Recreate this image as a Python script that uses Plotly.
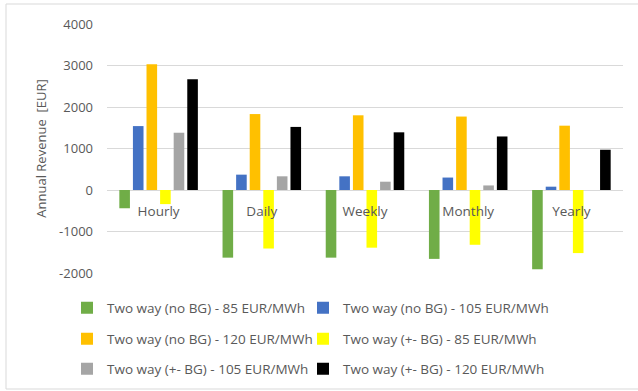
import plotly.graph_objects as go

categories = ["Hourly", "Daily", "Weekly", "Monthly", "Yearly"]

series_names = [
    "Two way (no BG) - 85 EUR/MWh",
    "Two way (no BG) - 105 EUR/MWh",
    "Two way (no BG) - 120 EUR/MWh",
    "Two way (+- BG) - 85 EUR/MWh",
    "Two way (+- BG) - 105 EUR/MWh",
    "Two way (+- BG) - 120 EUR/MWh",
]

nobg_85 = [-440, -1630, -1630, -1660, -1910]
nobg_105 = [1540, 370, 330, 300, 80]
nobg_120 = [3030, 1830, 1800, 1770, 1550]
bg_85 = [-340, -1410, -1390, -1320, -1520]
bg_105 = [1380, 330, 200, 110, 0]
bg_120 = [2670, 1520, 1390, 1290, 970]

series_values = [nobg_85, nobg_105, nobg_120, bg_85, bg_105, bg_120]
colors = ["#70AD47", "#4472C4", "#FFC000", "#FFFF00", "#A5A5A5", "#000000"]

y_ticks = [-2000, -1000, 0, 1000, 2000, 3000, 4000]
y_tick_text = ["-2000", "-1000", "0", "1000", "2000", "3000", "4000"]

FONT = "Open Sans"
TXT = "#595959"

# plot area in pixels
W, H = 638, 391
L, R, T, B = 107, 15, 24, 118
PW, PH = W - L - R, H - T - B


def px_x(px):
    return (px - L) / PW


def px_y(py):
    return (H - B - py) / PH


# legend laid out as a 2-column grid: one single-entry legend per cell
legend_cols = [67, 303]
legend_rows = [308, 339, 369]
legend_ids = ["legend", "legend2", "legend3", "legend4", "legend5", "legend6"]

fig = go.Figure()
for name, vals, col, lg in zip(series_names, series_values, colors, legend_ids):
    fig.add_trace(go.Bar(x=categories, y=vals, name=name, marker_color=col,
                         marker_line_width=0, legend=lg))

legend_style = dict(xanchor="left", yanchor="middle",
                    font=dict(family=FONT, size=13.5, color=TXT),
                    bgcolor="rgba(0,0,0,0)", itemclick=False)

legend_layout = {}
for i, lg in enumerate(legend_ids):
    legend_layout[lg] = dict(x=px_x(legend_cols[i % 2]),
                             y=px_y(legend_rows[i // 2]), **legend_style)

fig.update_layout(
    width=W, height=H,
    margin=dict(l=L, r=R, t=T, b=B, autoexpand=False),
    paper_bgcolor="white", plot_bgcolor="white",
    barmode="group", bargap=0.21, bargroupgap=0.22,
    font=dict(family=FONT, size=13, color=TXT),
    showlegend=True,
    xaxis=dict(anchor="free", position=2000 / 6000, showline=False,
               showgrid=False, ticks="", ticklabelstandoff=11,
               tickfont=dict(family=FONT, size=13.5, color=TXT)),
    yaxis=dict(range=[-2000, 4000], tickvals=y_ticks, ticktext=y_tick_text,
               showgrid=True, gridcolor="#D9D9D9", gridwidth=1,
               zeroline=True, zerolinecolor="#D9D9D9", zerolinewidth=1,
               showline=False, ticks="", ticklabelstandoff=13,
               tickfont=dict(family=FONT, size=13, color=TXT),
               title=dict(text="Annual Revenue  [EUR]", standoff=9,
                          font=dict(family=FONT, size=13, color=TXT))),
    shapes=[dict(type="rect", xref="paper", yref="paper",
                 x0=px_x(6), x1=px_x(645), y0=px_y(389), y1=px_y(4),
                 line=dict(color="#D9D9D9", width=1), layer="below")],
    **legend_layout,
)

fig.write_html("out.html")
